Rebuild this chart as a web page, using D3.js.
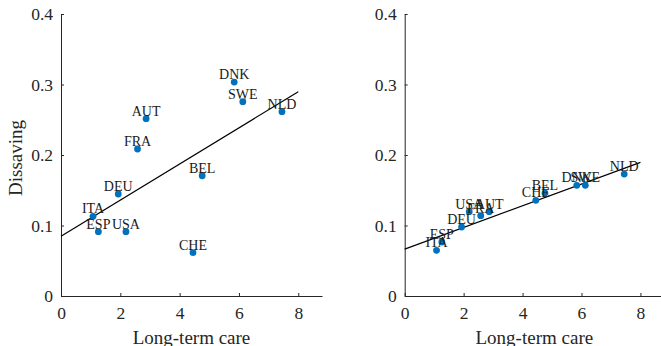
<!DOCTYPE html>
<html>
<head>
<meta charset="utf-8">
<script src="https://d3js.org/d3.v7.min.js"></script>
<style>
  body { margin: 0; background: #fff; }
  .axis path, .axis line { stroke: #262626; }
  .axis text { fill: #262626; }
</style>
</head>
<body>
<svg width="661" height="346"></svg>
<script>
// data
var countries = ["DNK", "SWE", "NLD", "AUT", "FRA", "BEL", "DEU", "ITA", "ESP", "USA", "CHE"];
var longTermCare = [5.84, 6.13, 7.45, 2.87, 2.58, 4.76, 1.93, 1.08, 1.26, 2.19, 4.45];
var dissavingLeft = [0.3035, 0.2756, 0.2614, 0.2515, 0.2085, 0.1706, 0.1447, 0.113, 0.0912, 0.0912, 0.0614];
var dissavingRight = [0.157, 0.157, 0.173, 0.1196, 0.114, 0.146, 0.0979, 0.0648, 0.0766, 0.1196, 0.1357];
var fitLeft = [[0, 0.0847], [8, 0.2898]];
var fitRight = [[0, 0.0665], [8, 0.1895]];
var xTicks = [0, 2, 4, 6, 8];
var yTicks = [0, 0.1, 0.2, 0.3, 0.4];

var svg = d3.select("svg");
var serif = "'Liberation Serif', 'Times New Roman', serif";

function panel(x0, x1, values, fit, yTitle) {
  var x = d3.scaleLinear().domain([0, 8.8]).range([x0, x1]);
  var y = d3.scaleLinear().domain([0, 0.4]).range([296, 14]);
  var g = svg.append("g");

  g.append("g").attr("class", "axis")
    .attr("transform", "translate(0,296)")
    .call(d3.axisBottom(x).tickValues(xTicks).tickSizeInner(-3).tickSizeOuter(0).tickPadding(11))
    .attr("font-family", serif).attr("font-size", 17.5);
  g.append("g").attr("class", "axis")
    .attr("transform", "translate(" + x0 + ",0)")
    .call(d3.axisLeft(y).tickValues(yTicks).tickSizeInner(-3).tickSizeOuter(0).tickPadding(8)
      .tickFormat(function(d) { return String(+d.toFixed(1)); }))
    .attr("font-family", serif).attr("font-size", 17.5);

  g.append("path")
    .attr("d", d3.line().x(function(d) { return x(d[0]); }).y(function(d) { return y(d[1]); })(fit))
    .attr("stroke", "#000").attr("stroke-width", 1.2).attr("fill", "none");

  var pts = countries.map(function(c, i) { return { name: c, x: longTermCare[i], y: values[i] }; });

  g.selectAll("circle").data(pts).enter().append("circle")
    .attr("cx", function(d) { return x(d.x); })
    .attr("cy", function(d) { return y(d.y); })
    .attr("r", 3.4)
    .attr("fill", "#0072BD");

  g.selectAll("text.lbl").data(pts).enter().append("text")
    .attr("class", "lbl")
    .attr("x", function(d) { return x(d.x); })
    .attr("y", function(d) { return y(d.y) - 3; })
    .attr("text-anchor", "middle")
    .attr("font-family", serif)
    .attr("font-size", 14)
    .attr("fill", "#1a1a1a")
    .text(function(d) { return d.name; });

  g.append("text")
    .attr("x", (x0 + x1) / 2).attr("y", 344)
    .attr("text-anchor", "middle")
    .attr("font-family", serif)
    .attr("font-size", 19).attr("fill", "#262626")
    .text("Long-term care");

  if (yTitle) {
    g.append("text")
      .attr("transform", "translate(22,158) rotate(-90)")
      .attr("text-anchor", "middle")
      .attr("font-family", serif)
      .attr("font-size", 19).attr("fill", "#262626")
      .text(yTitle);
  }
}

panel(61, 322, dissavingLeft, fitLeft, "Dissaving");
panel(404.7, 664, dissavingRight, fitRight, null);
</script>
</body>
</html>
